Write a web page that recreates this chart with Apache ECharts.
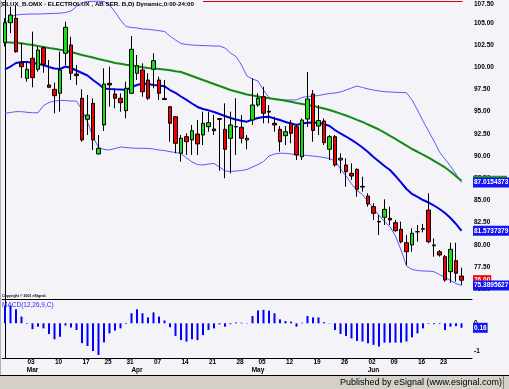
<!DOCTYPE html>
<html><head><meta charset="utf-8">
<script src="https://cdn.jsdelivr.net/npm/echarts@6/dist/echarts.min.js"></script>
<style>html,body{margin:0;padding:0;background:#F4F3F8}#c{width:509px;height:389px}</style>
</head><body><div id="c"></div>
<script>
const dates = [
 '2008-02-25','2008-02-26','2008-02-27','2008-02-28','2008-02-29',
 '2008-03-03','2008-03-04','2008-03-05','2008-03-06','2008-03-07',
 '2008-03-10','2008-03-11','2008-03-12','2008-03-13','2008-03-14',
 '2008-03-17','2008-03-18','2008-03-19','2008-03-20',
 '2008-03-25','2008-03-26','2008-03-27','2008-03-28',
 '2008-03-31','2008-04-01','2008-04-02','2008-04-03','2008-04-04',
 '2008-04-07','2008-04-08','2008-04-09','2008-04-10','2008-04-11',
 '2008-04-14','2008-04-15','2008-04-16','2008-04-17','2008-04-18',
 '2008-04-21','2008-04-22','2008-04-23','2008-04-24','2008-04-25',
 '2008-04-28','2008-04-29','2008-04-30','2008-05-02',
 '2008-05-05','2008-05-06','2008-05-07','2008-05-08','2008-05-09',
 '2008-05-12','2008-05-13','2008-05-14','2008-05-15','2008-05-16',
 '2008-05-19','2008-05-20','2008-05-21','2008-05-22','2008-05-23',
 '2008-05-26','2008-05-27','2008-05-28','2008-05-29','2008-05-30',
 '2008-06-02','2008-06-03','2008-06-04','2008-06-05',
 '2008-06-09','2008-06-10','2008-06-11','2008-06-12','2008-06-13',
 '2008-06-16','2008-06-17','2008-06-18','2008-06-19',
 '2008-06-23','2008-06-24','2008-06-25','2008-06-26'];

const opens = [102.78,105.03,105.53,100.52,98.76,101.02,99.78,102.21,98.01,97.52,
 97.07,101.58,102.52,99.25,96.51,94.14,95.94,90.23,93.50,98.20,
 96.99,96.51,95.11,97.07,99.33,99.70,98.57,99.78,98.57,96.49,
 95.56,94.43,90.31,92.18,91.81,92.48,92.37,93.31,93.05,94.22,
 93.01,92.00,93.33,93.24,91.81,94.06,95.75,96.69,95.05,93.69,
 93.01,92.29,93.69,93.31,89.92,94.17,96.99,93.38,93.95,90.76,
 92.18,89.55,88.99,88.05,88.50,86.58,85.49,84.29,82.62,83.09,
 82.98,82.48,81.74,80.23,79.97,81.45,81.80,83.91,79.88,79.21,
 78.65,76.96,78.20,76.47];
const closes = [105.03,105.90,101.76,100.07,99.78,98.83,101.95,100.34,97.75,96.80,
 99.70,104.51,99.33,99.06,91.81,94.62,91.81,90.87,98.12,98.01,
 96.51,96.01,97.64,102.03,100.18,97.25,96.51,100.75,97.07,96.37,
 93.69,91.43,92.00,91.61,92.85,91.36,93.69,93.76,92.85,94.13,
 90.76,93.50,93.27,92.00,92.00,95.75,96.51,94.82,94.95,93.50,
 91.61,92.74,92.56,90.12,94.06,96.43,92.88,94.00,91.50,92.18,
 88.99,89.74,88.23,87.75,86.25,86.50,84.59,83.54,82.56,83.99,
 82.79,81.58,80.34,79.21,81.29,81.47,81.75,80.34,79.97,78.84,
 76.02,79.48,76.78,76.00];
const lows = [102.33,103.87,101.65,98.80,98.38,97.75,99.51,99.39,97.70,94.82,
 95.00,100.26,98.57,98.01,91.61,92.37,90.68,90.20,92.82,95.56,
 95.38,95.00,94.25,97.00,98.57,96.69,96.32,97.64,96.32,96.30,
 91.61,90.31,89.36,90.12,90.12,90.12,91.24,92.74,92.37,88.35,
 87.49,88.05,90.12,91.43,90.76,93.50,95.56,93.69,93.69,92.74,
 90.49,91.24,91.43,89.55,89.55,93.27,91.61,92.37,91.24,89.55,
 88.80,88.05,86.54,87.30,85.41,85.98,84.29,82.79,81.10,82.22,
 82.22,81.47,80.16,77.71,79.21,80.34,81.40,80.16,78.65,78.65,
 75.83,75.72,75.83,75.46];
const highs = [105.53,106.83,107.03,102.74,100.63,104.02,102.33,102.33,100.83,98.27,
 101.76,105.14,103.45,100.26,97.52,96.88,96.51,92.37,99.89,100.07,
 97.64,97.07,98.38,103.53,101.39,100.45,99.33,101.58,98.94,98.57,
 95.60,94.45,92.37,92.56,93.50,94.06,95.00,95.00,94.62,94.25,
 95.94,95.00,96.51,94.62,92.37,98.76,97.07,97.82,95.75,94.43,
 93.38,93.38,94.06,93.61,94.25,99.47,97.44,95.75,94.25,92.37,
 92.37,90.31,89.74,89.18,88.61,87.67,85.80,84.67,83.35,85.12,
 84.29,82.79,82.60,81.10,81.85,82.22,82.35,85.80,80.72,79.40,
 78.84,80.23,80.23,77.41];

const maGreen = [102.82,102.79,102.75,102.71,102.61,102.52,102.40,102.29,102.18,102.09,
 101.99,101.90,101.73,101.56,101.39,101.24,101.10,100.94,100.79,100.65,
 100.49,100.40,100.30,100.21,100.12,100.01,99.92,99.87,99.81,99.75,
 99.66,99.56,99.47,99.25,99.02,98.80,98.57,98.35,98.12,97.89,
 97.67,97.44,97.27,97.11,96.94,96.82,96.71,96.60,96.51,96.43,
 96.34,96.23,96.11,95.98,95.87,95.75,95.64,95.49,95.35,95.19,
 94.99,94.78,94.57,94.33,94.08,93.84,93.55,93.27,92.99,92.63,
 92.28,91.92,91.55,91.18,90.79,90.48,90.15,89.83,89.46,89.08,
 88.71,88.25,87.72,87.22];
const maBlue = [99.78,100.09,100.49,100.60,100.60,100.52,100.37,100.26,100.04,99.87,
 99.81,100.09,99.92,99.64,99.36,99.08,98.57,98.12,97.61,97.56,
 97.52,97.49,97.44,97.78,98.01,98.18,98.12,98.01,97.95,97.86,
 97.44,97.11,96.71,96.32,95.92,95.53,95.30,95.15,94.96,94.74,
 94.51,94.29,94.12,93.98,93.87,94.12,94.29,94.40,94.43,94.23,
 94.06,93.84,93.67,93.50,93.67,93.76,93.78,93.76,93.61,93.39,
 92.93,92.54,92.20,91.81,91.41,90.96,90.45,89.89,89.38,88.88,
 88.42,87.75,87.02,86.28,85.72,85.38,85.04,84.76,84.42,84.03,
 83.58,83.01,82.34,81.5737379];
const bandUpper = [104.77,105.67,105.90,105.96,105.99,106.01,106.01,106.03,106.06,106.08,
 106.10,106.18,106.35,106.86,107.25,107.42,107.44,107.45,107.42,107.03,
 106.24,105.34,104.60,104.49,104.43,104.32,104.29,104.21,104.13,104.04,
 103.53,103.08,102.69,102.57,102.52,102.48,102.45,102.43,102.40,102.40,
 102.18,101.61,101.22,100.26,99.02,98.68,98.46,97.44,96.60,96.37,
 96.32,96.32,96.32,96.32,96.60,96.71,96.77,96.82,96.94,97.05,
 97.11,97.22,97.44,97.67,97.89,97.73,97.56,97.44,97.33,97.25,
 97.22,97.18,97.16,97.14,96.32,95.19,93.95,92.82,91.69,90.45,
 89.66,88.88,87.97,87.0154373];
const bandLower = [94.82,94.91,95.00,95.00,94.93,94.88,94.88,95.70,96.03,96.20,
 96.26,96.26,96.20,96.20,95.19,93.84,92.18,90.96,90.74,90.68,
 90.85,91.02,90.96,90.90,90.87,90.87,90.85,90.79,90.68,90.62,
 90.49,90.40,90.28,89.78,89.33,89.04,88.99,89.10,89.16,88.76,
 88.31,88.26,88.31,88.37,88.48,88.76,89.04,89.38,90.00,90.23,
 90.31,90.31,90.23,90.12,90.12,90.06,90.00,89.92,89.83,89.72,
 89.44,88.54,87.75,86.85,86.11,85.66,84.87,84.08,83.30,82.62,
 82.03,80.98,79.41,77.60,77.21,77.09,77.04,77.02,76.96,76.64,
 76.31,75.97,75.63,75.3895627];
const macdHist = [0.62,0.62,0.50,0.24,-0.02,-0.21,-0.12,-0.18,-0.38,-0.57,
 -0.48,-0.08,-0.15,-0.24,-0.71,-0.81,-0.99,-1.13,-0.68,-0.36,
 -0.26,-0.18,-0.02,0.36,0.50,0.36,0.21,0.39,0.24,0.10,
 -0.14,-0.45,-0.60,-0.65,-0.57,-0.60,-0.42,-0.24,-0.18,-0.04,
 -0.12,-0.03,0.03,0.02,0.01,0.26,0.46,0.48,0.45,0.36,
 0.14,0.08,0.06,-0.12,0.02,0.26,0.21,0.21,0.04,0.01,
 -0.24,-0.38,-0.45,-0.54,-0.63,-0.65,-0.71,-0.77,-0.83,-0.69,
 -0.69,-0.69,-0.69,-0.65,-0.50,-0.36,-0.18,-0.02,-0.03,-0.02,
 -0.24,-0.12,-0.10,-0.16];

const weekTickDates = ['2008-03-03','2008-03-10','2008-03-17','2008-03-25','2008-03-31','2008-04-07','2008-04-14','2008-04-21','2008-04-28','2008-05-05','2008-05-12','2008-05-19','2008-05-26','2008-06-02','2008-06-09','2008-06-16','2008-06-23'];
const monthStartDates = ['2008-03-03','2008-04-01','2008-05-02','2008-06-02'];
const monthNames = ['Mar','Apr','May','Jun'];
const priceTicks = [75,77.5,80,82.5,85,87.5,90,92.5,95,97.5,100,102.5,105,107.5];
const macdTicks = [0,-1];
const titleText = '(ELUX_B.OMX - ELECTROLUX , AB SER. B,D) Dynamic,0:00-24:00';
const redLineLevel = 107.5;

const FONT = 'Liberation Sans';
const weekIdx = weekTickDates.map(d => dates.indexOf(d));
const monthIdx = monthStartDates.map(d => dates.indexOf(d));
const candleData = dates.map((d, i) => [i, opens[i], closes[i], lows[i], highs[i]]);
const xy = arr => arr.map((v, i) => [i, v]);
const X_MIN = -0.5, X_MAX = 84.91;
const last = dates.length - 1;

const chart = echarts.init(document.getElementById('c'), null, {renderer: 'canvas', width: 509, height: 389});
const lblBase = {fontSize: 6.5, fontWeight: 'bold', color: '#000', fontFamily: FONT};
const option = {
  animation: false,
  backgroundColor: '#F4F3F8',
  grid: [
    {left: 2.25, right: 37, top: 0, height: 299},
    {left: 2.25, right: 37, top: 299, height: 59}
  ],
  xAxis: [
    {type: 'value', gridIndex: 0, min: X_MIN, max: X_MAX,
     axisLine: {show: true, onZero: false, lineStyle: {color: '#000', width: 1}},
     axisTick: {show: false}, axisLabel: {show: false}, splitLine: {show: false}},
    {type: 'value', gridIndex: 1, min: X_MIN, max: X_MAX,
     axisLine: {show: true, onZero: false, lineStyle: {color: '#000', width: 1}},
     axisTick: {show: false}, splitLine: {show: false},
     axisLabel: Object.assign({customValues: weekIdx, margin: 1, padding: [0, 3, 0, 0],
       formatter: v => dates[Math.round(v)].slice(8)}, lblBase)},
    {type: 'value', gridIndex: 1, position: 'bottom', offset: 0, min: X_MIN, max: X_MAX,
     axisLine: {show: false}, axisTick: {show: false}, splitLine: {show: false},
     axisLabel: Object.assign({customValues: monthIdx, margin: 9,
       formatter: v => monthNames[monthIdx.indexOf(Math.round(v))]}, lblBase)}
  ],
  yAxis: [
    {type: 'value', gridIndex: 0, position: 'right', min: 73.88, max: 107.59,
     axisLine: {show: true, lineStyle: {color: '#000', width: 1}},
     axisTick: {show: false}, splitLine: {show: false},
     axisLabel: Object.assign({customValues: priceTicks, margin: 2,
       formatter: v => v === 107.5 ? '{t|' + v.toFixed(2) + '}' : v.toFixed(2),
       rich: {t: Object.assign({padding: [7, 0, 0, 0]}, lblBase)}}, lblBase)},
    {type: 'value', gridIndex: 1, position: 'right', min: -1.239, max: 0.868,
     axisLine: {show: true, lineStyle: {color: '#000', width: 1}},
     axisTick: {show: false}, splitLine: {show: false},
     axisLabel: Object.assign({customValues: macdTicks, margin: 2, formatter: v => String(v)}, lblBase)}
  ],
  series: [
    {type: 'line', xAxisIndex: 0, yAxisIndex: 0, data: xy(bandUpper), symbol: 'none', z: 2,
     lineStyle: {color: '#5A5AFF', width: 1}},
    {type: 'line', xAxisIndex: 0, yAxisIndex: 0, data: xy(bandLower), symbol: 'none', z: 2,
     lineStyle: {color: '#5A5AFF', width: 1}},
    {type: 'line', xAxisIndex: 0, yAxisIndex: 0, data: xy(maGreen), symbol: 'none', z: 2,
     lineStyle: {color: '#138A13', width: 2}},
    {type: 'line', xAxisIndex: 0, yAxisIndex: 0, data: xy(maBlue), symbol: 'none', z: 2,
     lineStyle: {color: '#0000E8', width: 2}},
    {type: 'candlestick', xAxisIndex: 0, yAxisIndex: 0, data: candleData, barWidth: 4, z: 3,
     itemStyle: {color: '#14E014', color0: '#F00000', borderColor: '#000', borderColor0: '#000', borderWidth: 1}},
    {type: 'bar', xAxisIndex: 1, yAxisIndex: 1, data: xy(macdHist), barWidth: 2,
     itemStyle: {color: '#0000FF'}}
  ]
};
chart.setOption(option);

function py(grid, v) { return chart.convertToPixel({gridIndex: grid}, [last, v])[1]; }
const boxFont = 'bold 6.5px "' + FONT + '"';
function box(text, y, bg) {
  return {type: 'text', x: 473, y: y, z: 100,
    style: {text: text, fill: '#fff', font: boxFont, backgroundColor: bg,
      padding: [2, 1, 1, 1], verticalAlign: 'middle', align: 'left'}};
}
const yGreen = py(0, maGreen[last]);
const redY = Math.round(py(0, redLineLevel)) + 0.5;
const redX2 = chart.convertToPixel({gridIndex: 0}, [last + 0.2, redLineLevel])[0];
const graphics = [
  {type: 'line', z: 40, shape: {x1: 203, y1: redY, x2: redX2, y2: redY}, style: {stroke: '#E00000', lineWidth: 1}},
  {type: 'rect', z: 99, shape: {x: 473, y: yGreen - 5, width: 34, height: 10}, style: {fill: '#1FA01F'}},
  box(bandUpper[last].toFixed(7), py(0, bandUpper[last]), '#1414F0'),
  box(maBlue[last].toFixed(7), py(0, maBlue[last]), '#1414F0'),
  box(closes[last].toFixed(2), py(0, closes[last]), '#F00000'),
  box(bandLower[last].toFixed(7), py(0, bandLower[last]), '#1414F0'),
  box(Math.abs(macdHist[last]).toFixed(2), py(1, macdHist[last]), '#1414F0'),
  {type: 'text', x: 0, y: 1, z: 50, style: {text: titleText, fill: '#000', font: 'bold 6.2px "' + FONT + '"'}},
  {type: 'text', x: 2, y: 293.5, z: 50, style: {text: 'Copyright \u00A9 2001 eSignal.', fill: '#000', font: 'bold 3.6px "' + FONT + '"'}},
  {type: 'text', x: 2, y: 302, z: 50, style: {text: 'MACD(12,26,9,C)', fill: '#2A2AFF', font: '6.5px "' + FONT + '"'}},
  {type: 'line', z: 50, shape: {x1: 0.5, y1: 0, x2: 0.5, y2: 375}, style: {stroke: '#B0B0B0', lineWidth: 1}},
  {type: 'rect', z: 50, shape: {x: 0, y: 375, width: 509, height: 14}, style: {fill: '#D4D0C8'}},
  {type: 'line', z: 51, shape: {x1: 0, y1: 375.5, x2: 509, y2: 375.5}, style: {stroke: '#000', lineWidth: 1}},
  {type: 'line', z: 51, shape: {x1: 503.5, y1: 376, x2: 503.5, y2: 389}, style: {stroke: '#808080', lineWidth: 1}},
  {type: 'text', x: 502, y: 382.5, z: 52, style: {text: 'Published by eSignal (www.esignal.com)', fill: '#000',
    font: '9px "' + FONT + '"', align: 'right', verticalAlign: 'middle'}}
];
chart.setOption({graphic: graphics});
</script>
</body></html>
